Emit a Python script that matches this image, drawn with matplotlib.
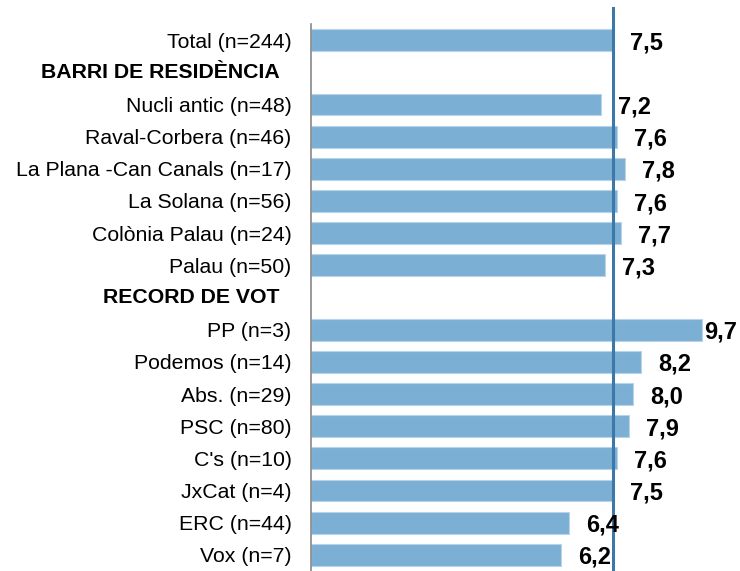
import matplotlib.pyplot as plt
import numpy as np

plt.rcParams['font.family'] = ['Liberation Sans', 'DejaVu Sans']

# rows from top to bottom; None = section header (no bar)
labels = ["Total (n=244)", "BARRI DE RESIDÈNCIA", "Nucli antic (n=48)", "Raval-Corbera (n=46)",
          "La Plana -Can Canals (n=17)", "La Solana (n=56)", "Colònia Palau (n=24)", "Palau (n=50)",
          "RECORD DE VOT", "PP (n=3)", "Podemos (n=14)", "Abs. (n=29)", "PSC (n=80)",
          "C's (n=10)", "JxCat (n=4)", "ERC (n=44)", "Vox (n=7)"]
values = [7.5, None, 7.2, 7.6, 7.8, 7.6, 7.7, 7.3, None, 9.7, 8.2, 8.0, 7.9, 7.6, 7.5, 6.4, 6.2]
total = 7.5

bar_color = "#7bafd4"
line_color = "#3d79a8"

fig = plt.figure(figsize=(7.4, 5.71), dpi=100)
ax = fig.add_axes([311/740, 0.0, 403/740, (571-24)/571])

n = len(labels)
ypos = np.arange(n)
for i, (lab, v) in enumerate(zip(labels, values)):
    if v is None:
        continue
    ax.barh(i, v, height=0.68, color=bar_color, edgecolor="#b9d4ea", linewidth=0.8, zorder=2)
    # value label, kept inside the frame for the longest bar
    x = min(v + 0.42, 9.75)
    ax.text(x, i + 0.08, f"{v:.1f}".replace(".", ","), ha="left", va="center",
            fontsize=17, fontweight="bold", color="black", zorder=4)

ax.set_xlim(0, 10)
ax.set_ylim(n - 0.5, -0.5)

# reference line at the total
ax.plot([total, total], [n - 0.5, -1.0], color=line_color, linewidth=2.2,
        clip_on=False, zorder=3)

ax.set_yticks(ypos)
ax.set_yticklabels([l if v is not None else "" for l, v in zip(labels, values)], fontsize=15.3)
ax.tick_params(axis="y", length=0, pad=14)
for i, (lab, v) in enumerate(zip(labels, values)):
    if v is None:
        ax.text(-0.78, i, lab, ha="right", va="center", fontsize=15.3, fontweight="bold")

ax.set_xticks([])
for s in ["top", "right", "bottom"]:
    ax.spines[s].set_visible(False)
ax.spines["left"].set_color("#888888")
ax.spines["left"].set_linewidth(1.2)

fig.savefig("out.png", dpi=100)
